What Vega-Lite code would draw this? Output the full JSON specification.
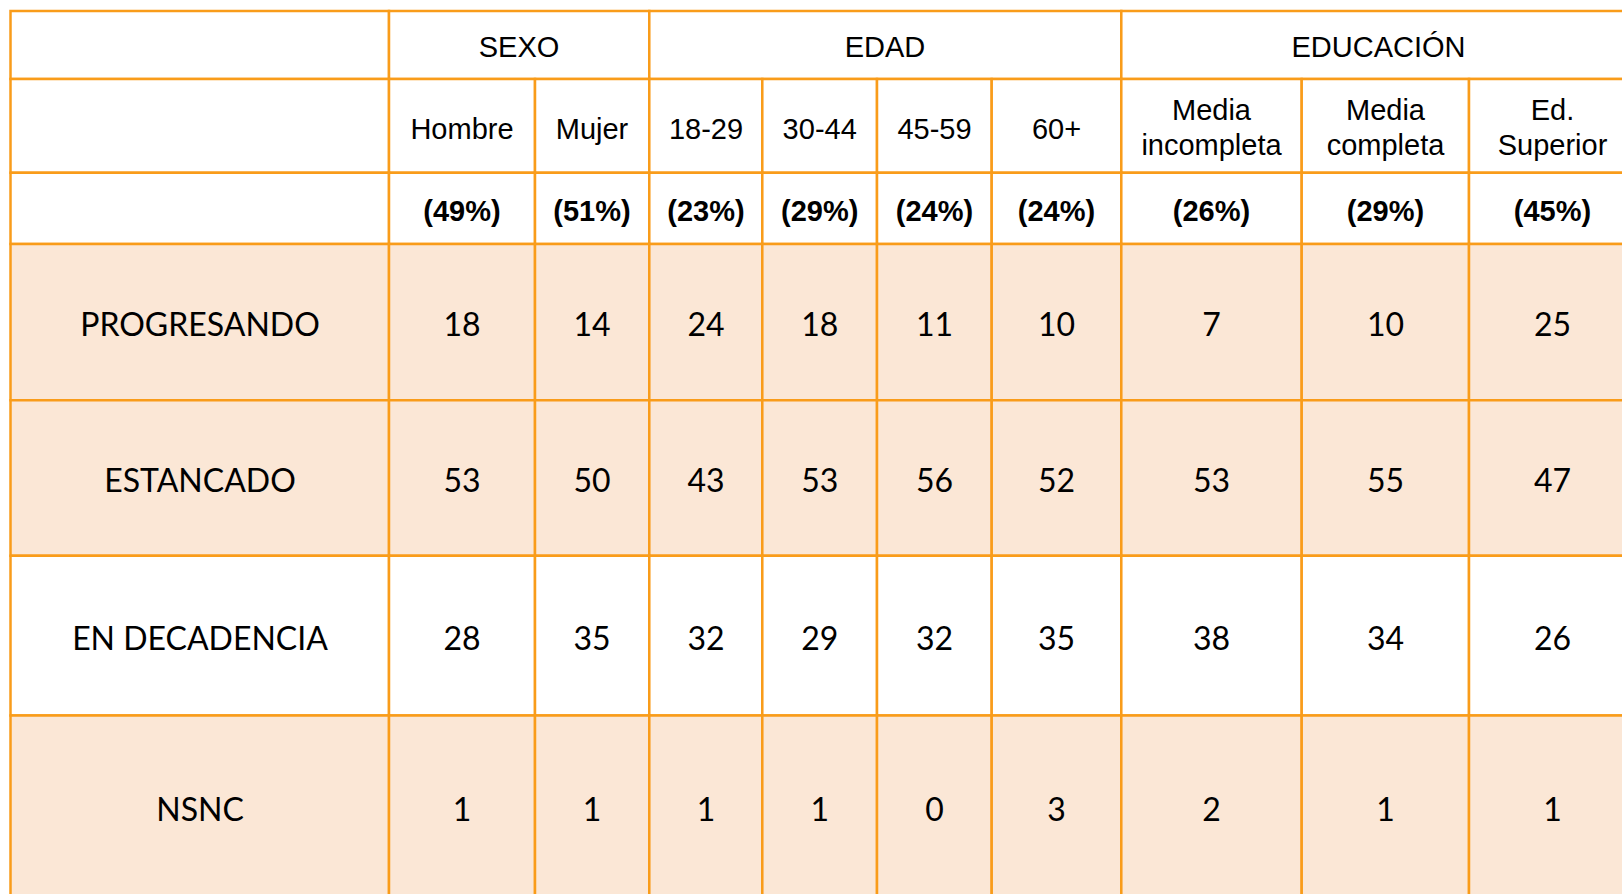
{
  "$schema": "https://vega.github.io/schema/vega-lite/v6.json",
  "width": 1622,
  "height": 894,
  "padding": 0,
  "autosize": {"type": "none"},
  "background": "#FFFFFF",
  "config": {"view": {"stroke": null}},
  "datasets": {
    "celdas": [
      {"f": 0, "f2": 1, "c": 0, "c2": 1, "texto": "", "tipo": "vacio", "fondo": "blanco"},
      {"f": 0, "f2": 1, "c": 1, "c2": 3, "texto": "SEXO", "tipo": "grupo", "fondo": "blanco"},
      {"f": 0, "f2": 1, "c": 3, "c2": 7, "texto": "EDAD", "tipo": "grupo", "fondo": "blanco"},
      {"f": 0, "f2": 1, "c": 7, "c2": 10, "texto": "EDUCACIÓN", "tipo": "grupo", "fondo": "blanco"},

      {"f": 1, "f2": 2, "c": 0, "c2": 1, "texto": "", "tipo": "vacio", "fondo": "blanco"},
      {"f": 1, "f2": 2, "c": 1, "c2": 2, "texto": "Hombre", "tipo": "sub", "fondo": "blanco"},
      {"f": 1, "f2": 2, "c": 2, "c2": 3, "texto": "Mujer", "tipo": "sub", "fondo": "blanco"},
      {"f": 1, "f2": 2, "c": 3, "c2": 4, "texto": "18-29", "tipo": "sub", "fondo": "blanco"},
      {"f": 1, "f2": 2, "c": 4, "c2": 5, "texto": "30-44", "tipo": "sub", "fondo": "blanco"},
      {"f": 1, "f2": 2, "c": 5, "c2": 6, "texto": "45-59", "tipo": "sub", "fondo": "blanco"},
      {"f": 1, "f2": 2, "c": 6, "c2": 7, "texto": "60+", "tipo": "sub", "fondo": "blanco"},
      {"f": 1, "f2": 2, "c": 7, "c2": 8, "texto": "Media\nincompleta", "tipo": "sub2", "fondo": "blanco"},
      {"f": 1, "f2": 2, "c": 8, "c2": 9, "texto": "Media\ncompleta", "tipo": "sub2", "fondo": "blanco"},
      {"f": 1, "f2": 2, "c": 9, "c2": 10, "texto": "Ed.\nSuperior", "tipo": "sub2", "fondo": "blanco"},

      {"f": 2, "f2": 3, "c": 0, "c2": 1, "texto": "", "tipo": "vacio", "fondo": "blanco"},
      {"f": 2, "f2": 3, "c": 1, "c2": 2, "texto": "(49%)", "tipo": "pct", "fondo": "blanco"},
      {"f": 2, "f2": 3, "c": 2, "c2": 3, "texto": "(51%)", "tipo": "pct", "fondo": "blanco"},
      {"f": 2, "f2": 3, "c": 3, "c2": 4, "texto": "(23%)", "tipo": "pct", "fondo": "blanco"},
      {"f": 2, "f2": 3, "c": 4, "c2": 5, "texto": "(29%)", "tipo": "pct", "fondo": "blanco"},
      {"f": 2, "f2": 3, "c": 5, "c2": 6, "texto": "(24%)", "tipo": "pct", "fondo": "blanco"},
      {"f": 2, "f2": 3, "c": 6, "c2": 7, "texto": "(24%)", "tipo": "pct", "fondo": "blanco"},
      {"f": 2, "f2": 3, "c": 7, "c2": 8, "texto": "(26%)", "tipo": "pct", "fondo": "blanco"},
      {"f": 2, "f2": 3, "c": 8, "c2": 9, "texto": "(29%)", "tipo": "pct", "fondo": "blanco"},
      {"f": 2, "f2": 3, "c": 9, "c2": 10, "texto": "(45%)", "tipo": "pct", "fondo": "blanco"},

      {"f": 3, "f2": 4, "c": 0, "c2": 1, "texto": "PROGRESANDO", "tipo": "cuerpo", "fondo": "durazno"},
      {"f": 3, "f2": 4, "c": 1, "c2": 2, "texto": "18", "tipo": "cuerpo", "fondo": "durazno"},
      {"f": 3, "f2": 4, "c": 2, "c2": 3, "texto": "14", "tipo": "cuerpo", "fondo": "durazno"},
      {"f": 3, "f2": 4, "c": 3, "c2": 4, "texto": "24", "tipo": "cuerpo", "fondo": "durazno"},
      {"f": 3, "f2": 4, "c": 4, "c2": 5, "texto": "18", "tipo": "cuerpo", "fondo": "durazno"},
      {"f": 3, "f2": 4, "c": 5, "c2": 6, "texto": "11", "tipo": "cuerpo", "fondo": "durazno"},
      {"f": 3, "f2": 4, "c": 6, "c2": 7, "texto": "10", "tipo": "cuerpo", "fondo": "durazno"},
      {"f": 3, "f2": 4, "c": 7, "c2": 8, "texto": "7", "tipo": "cuerpo", "fondo": "durazno"},
      {"f": 3, "f2": 4, "c": 8, "c2": 9, "texto": "10", "tipo": "cuerpo", "fondo": "durazno"},
      {"f": 3, "f2": 4, "c": 9, "c2": 10, "texto": "25", "tipo": "cuerpo", "fondo": "durazno"},

      {"f": 4, "f2": 5, "c": 0, "c2": 1, "texto": "ESTANCADO", "tipo": "cuerpo", "fondo": "durazno"},
      {"f": 4, "f2": 5, "c": 1, "c2": 2, "texto": "53", "tipo": "cuerpo", "fondo": "durazno"},
      {"f": 4, "f2": 5, "c": 2, "c2": 3, "texto": "50", "tipo": "cuerpo", "fondo": "durazno"},
      {"f": 4, "f2": 5, "c": 3, "c2": 4, "texto": "43", "tipo": "cuerpo", "fondo": "durazno"},
      {"f": 4, "f2": 5, "c": 4, "c2": 5, "texto": "53", "tipo": "cuerpo", "fondo": "durazno"},
      {"f": 4, "f2": 5, "c": 5, "c2": 6, "texto": "56", "tipo": "cuerpo", "fondo": "durazno"},
      {"f": 4, "f2": 5, "c": 6, "c2": 7, "texto": "52", "tipo": "cuerpo", "fondo": "durazno"},
      {"f": 4, "f2": 5, "c": 7, "c2": 8, "texto": "53", "tipo": "cuerpo", "fondo": "durazno"},
      {"f": 4, "f2": 5, "c": 8, "c2": 9, "texto": "55", "tipo": "cuerpo", "fondo": "durazno"},
      {"f": 4, "f2": 5, "c": 9, "c2": 10, "texto": "47", "tipo": "cuerpo", "fondo": "durazno"},

      {"f": 5, "f2": 6, "c": 0, "c2": 1, "texto": "EN DECADENCIA", "tipo": "cuerpo", "fondo": "blanco"},
      {"f": 5, "f2": 6, "c": 1, "c2": 2, "texto": "28", "tipo": "cuerpo", "fondo": "blanco"},
      {"f": 5, "f2": 6, "c": 2, "c2": 3, "texto": "35", "tipo": "cuerpo", "fondo": "blanco"},
      {"f": 5, "f2": 6, "c": 3, "c2": 4, "texto": "32", "tipo": "cuerpo", "fondo": "blanco"},
      {"f": 5, "f2": 6, "c": 4, "c2": 5, "texto": "29", "tipo": "cuerpo", "fondo": "blanco"},
      {"f": 5, "f2": 6, "c": 5, "c2": 6, "texto": "32", "tipo": "cuerpo", "fondo": "blanco"},
      {"f": 5, "f2": 6, "c": 6, "c2": 7, "texto": "35", "tipo": "cuerpo", "fondo": "blanco"},
      {"f": 5, "f2": 6, "c": 7, "c2": 8, "texto": "38", "tipo": "cuerpo", "fondo": "blanco"},
      {"f": 5, "f2": 6, "c": 8, "c2": 9, "texto": "34", "tipo": "cuerpo", "fondo": "blanco"},
      {"f": 5, "f2": 6, "c": 9, "c2": 10, "texto": "26", "tipo": "cuerpo", "fondo": "blanco"},

      {"f": 6, "f2": 7, "c": 0, "c2": 1, "texto": "NSNC", "tipo": "cuerpo", "fondo": "durazno"},
      {"f": 6, "f2": 7, "c": 1, "c2": 2, "texto": "1", "tipo": "cuerpo", "fondo": "durazno"},
      {"f": 6, "f2": 7, "c": 2, "c2": 3, "texto": "1", "tipo": "cuerpo", "fondo": "durazno"},
      {"f": 6, "f2": 7, "c": 3, "c2": 4, "texto": "1", "tipo": "cuerpo", "fondo": "durazno"},
      {"f": 6, "f2": 7, "c": 4, "c2": 5, "texto": "1", "tipo": "cuerpo", "fondo": "durazno"},
      {"f": 6, "f2": 7, "c": 5, "c2": 6, "texto": "0", "tipo": "cuerpo", "fondo": "durazno"},
      {"f": 6, "f2": 7, "c": 6, "c2": 7, "texto": "3", "tipo": "cuerpo", "fondo": "durazno"},
      {"f": 6, "f2": 7, "c": 7, "c2": 8, "texto": "2", "tipo": "cuerpo", "fondo": "durazno"},
      {"f": 6, "f2": 7, "c": 8, "c2": 9, "texto": "1", "tipo": "cuerpo", "fondo": "durazno"},
      {"f": 6, "f2": 7, "c": 9, "c2": 10, "texto": "1", "tipo": "cuerpo", "fondo": "durazno"}
    ]
  },
  "layer": [
    {
      "data": {"name": "celdas"},
      "mark": {"type": "rect", "stroke": "#F99C1A", "strokeWidth": 2.5},
      "encoding": {
        "x": {"field": "c", "type": "quantitative", "axis": null,
              "scale": {"domain": [0, 1, 2, 3, 4, 5, 6, 7, 8, 9, 10],
                        "range": [10.5, 389, 535, 649.3, 762.3, 877, 991.7, 1121.3, 1301.7, 1469, 1640],
                        "nice": false, "zero": false}},
        "x2": {"field": "c2"},
        "y": {"field": "f", "type": "quantitative", "axis": null,
              "scale": {"domain": [0, 1, 2, 3, 4, 5, 6, 7],
                        "range": [11, 79, 172.7, 244, 400.3, 555.8, 715.5, 905],
                        "nice": false, "zero": false}},
        "y2": {"field": "f2"},
        "color": {"field": "fondo", "type": "nominal", "legend": null,
                  "scale": {"domain": ["blanco", "durazno"], "range": ["#FFFFFF", "#FBE7D6"]}}
      }
    },
    {
      "data": {"name": "celdas"},
      "transform": [{"filter": "datum.tipo === 'grupo'"}],
      "mark": {"type": "text", "font": "Liberation Sans", "fontSize": 29, "color": "#000000", "align": "center", "baseline": "middle"},
      "encoding": {
        "x": {"field": "c", "type": "quantitative", "axis": null,
              "scale": {"domain": [1, 3, 7], "range": [519, 885, 1378.5], "nice": false, "zero": false}},
        "y": {"field": "f", "type": "quantitative", "axis": null,
              "scale": {"domain": [0, 1, 2, 3, 4, 5, 6], "range": [48, 129.5, 211.5, 326, 481.5, 640, 811], "nice": false, "zero": false}},
        "text": {"field": "texto"}
      }
    },
    {
      "data": {"name": "celdas"},
      "transform": [{"filter": "datum.tipo === 'sub'"}],
      "mark": {"type": "text", "font": "Liberation Sans", "fontSize": 29, "color": "#000000", "align": "center", "baseline": "middle"},
      "encoding": {
        "x": {"field": "c", "type": "quantitative", "axis": null,
              "scale": {"domain": [0, 1, 2, 3, 4, 5, 6, 7, 8, 9], "range": [200, 462, 592, 706, 819.7, 934.5, 1056.5, 1211.5, 1385.5, 1552.5], "nice": false, "zero": false}},
        "y": {"field": "f", "type": "quantitative", "axis": null,
              "scale": {"domain": [0, 1, 2, 3, 4, 5, 6], "range": [48, 129.5, 211.5, 326, 481.5, 640, 811], "nice": false, "zero": false}},
        "text": {"field": "texto"}
      }
    },
    {
      "data": {"name": "celdas"},
      "transform": [{"filter": "datum.tipo === 'sub2'"}],
      "mark": {"type": "text", "font": "Liberation Sans", "fontSize": 29, "lineHeight": 35, "lineBreak": "\n", "dy": -18.5, "color": "#000000", "align": "center", "baseline": "middle"},
      "encoding": {
        "x": {"field": "c", "type": "quantitative", "axis": null,
              "scale": {"domain": [0, 1, 2, 3, 4, 5, 6, 7, 8, 9], "range": [200, 462, 592, 706, 819.7, 934.5, 1056.5, 1211.5, 1385.5, 1552.5], "nice": false, "zero": false}},
        "y": {"field": "f", "type": "quantitative", "axis": null,
              "scale": {"domain": [0, 1, 2, 3, 4, 5, 6], "range": [48, 129.5, 211.5, 326, 481.5, 640, 811], "nice": false, "zero": false}},
        "text": {"field": "texto"}
      }
    },
    {
      "data": {"name": "celdas"},
      "transform": [{"filter": "datum.tipo === 'pct'"}],
      "mark": {"type": "text", "font": "Liberation Sans", "fontSize": 29, "fontWeight": "bold", "color": "#000000", "align": "center", "baseline": "middle"},
      "encoding": {
        "x": {"field": "c", "type": "quantitative", "axis": null,
              "scale": {"domain": [0, 1, 2, 3, 4, 5, 6, 7, 8, 9], "range": [200, 462, 592, 706, 819.7, 934.5, 1056.5, 1211.5, 1385.5, 1552.5], "nice": false, "zero": false}},
        "y": {"field": "f", "type": "quantitative", "axis": null,
              "scale": {"domain": [0, 1, 2, 3, 4, 5, 6], "range": [48, 129.5, 211.5, 326, 481.5, 640, 811], "nice": false, "zero": false}},
        "text": {"field": "texto"}
      }
    },
    {
      "data": {"name": "celdas"},
      "transform": [{"filter": "datum.tipo === 'cuerpo'"}],
      "mark": {"type": "text", "font": "Lato", "fontSize": 32, "color": "#000000", "align": "center", "baseline": "middle"},
      "encoding": {
        "x": {"field": "c", "type": "quantitative", "axis": null,
              "scale": {"domain": [0, 1, 2, 3, 4, 5, 6, 7, 8, 9], "range": [200, 462, 592, 706, 819.7, 934.5, 1056.5, 1211.5, 1385.5, 1552.5], "nice": false, "zero": false}},
        "y": {"field": "f", "type": "quantitative", "axis": null,
              "scale": {"domain": [0, 1, 2, 3, 4, 5, 6], "range": [48, 129.5, 211.5, 326, 481.5, 640, 811], "nice": false, "zero": false}},
        "text": {"field": "texto"}
      }
    }
  ],
  "resolve": {"scale": {"x": "independent", "y": "independent", "color": "independent"}}
}
